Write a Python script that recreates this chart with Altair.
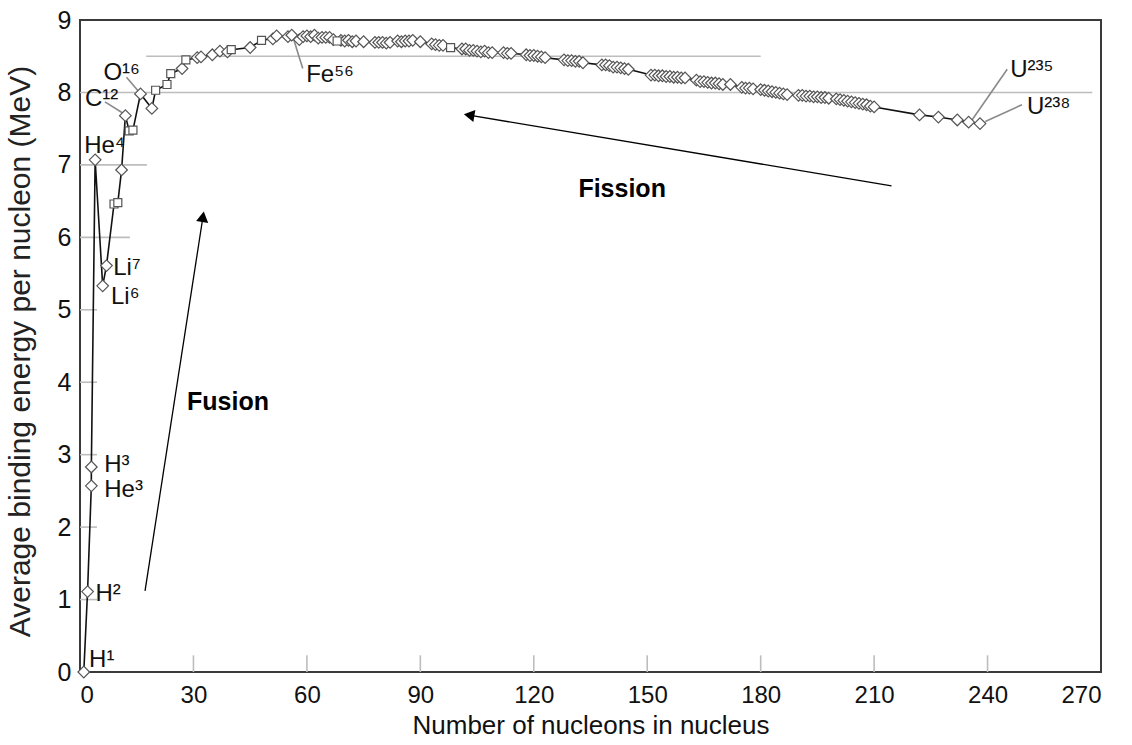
import altair as alt
import pandas as pd

# ---------------- data ----------------
A = [1, 2, 3, 3, 4, 6, 7, 9, 10, 11, 12, 13, 14, 16, 19, 20, 23, 24, 27, 28,
     31, 32, 35, 37, 39, 40, 45, 48, 51, 52, 55, 56,
     58, 59, 60, 61, 62, 63, 64, 65, 66, 67, 68, 69, 70, 71, 72, 73, 75,
     78, 79, 80, 81, 82, 84, 85, 86, 87, 88, 90, 93, 94, 95, 96, 98,
     101, 102, 103, 104, 105, 106, 107, 108, 109, 112, 113, 114,
     118, 119, 120, 121, 122, 123, 128, 129, 130, 131, 132, 133,
     138, 139, 140, 141, 142, 143, 144, 145,
     151, 152, 153, 154, 155, 156, 157, 158, 159, 160,
     163, 164, 165, 166, 167, 168, 169, 170, 172, 175, 176, 177, 178,
     180, 181, 182, 183, 184, 185, 186, 187,
     190, 191, 192, 193, 194, 195, 196, 197, 198,
     200, 201, 202, 203, 204, 205, 206, 207, 208, 209, 210,
     222, 227, 232, 235, 238]
BE = [0.00, 1.11, 2.57, 2.83, 7.07, 5.33, 5.61, 6.46, 6.48, 6.93, 7.68, 7.47, 7.48, 7.98, 7.78, 8.03, 8.11, 8.26, 8.33, 8.45,
      8.48, 8.49, 8.52, 8.57, 8.56, 8.59, 8.62, 8.72, 8.74, 8.78, 8.77, 8.79,
      8.73, 8.77, 8.78, 8.77, 8.79, 8.75, 8.76, 8.76, 8.76, 8.73, 8.71, 8.72, 8.71, 8.72, 8.70, 8.71, 8.70,
      8.69, 8.69, 8.69, 8.68, 8.69, 8.71, 8.70, 8.71, 8.71, 8.72, 8.70, 8.67, 8.66, 8.65, 8.65, 8.62,
      8.60, 8.60, 8.58, 8.58, 8.57, 8.56, 8.57, 8.55, 8.55, 8.55, 8.54, 8.54,
      8.52, 8.51, 8.51, 8.50, 8.49, 8.48, 8.45, 8.44, 8.44, 8.43, 8.43, 8.41,
      8.38, 8.38, 8.37, 8.35, 8.35, 8.34, 8.33, 8.32,
      8.24, 8.24, 8.23, 8.23, 8.22, 8.22, 8.21, 8.21, 8.20, 8.20,
      8.17, 8.15, 8.15, 8.14, 8.13, 8.13, 8.12, 8.11, 8.11, 8.07, 8.06, 8.06, 8.05,
      8.04, 8.03, 8.02, 8.01, 8.00, 7.99, 7.98, 7.97,
      7.96, 7.96, 7.95, 7.95, 7.94, 7.94, 7.93, 7.93, 7.92,
      7.91, 7.90, 7.89, 7.88, 7.87, 7.86, 7.85, 7.84, 7.83, 7.81, 7.80,
      7.69, 7.66, 7.62, 7.59, 7.57]
SQUARE_A = [9, 10, 13, 14, 20, 23, 24, 28, 40, 48, 68, 98]

X_TICKS = [0, 30, 60, 90, 120, 150, 180, 210, 240, 270]
Y_TICKS = [0, 1, 2, 3, 4, 5, 6, 7, 8, 9]

LABELS = ["H¹", "H²", "H³", "He³", "He⁴", "Li⁷", "Li⁶", "C¹²", "O¹⁶", "Fe⁵⁶", "U²³⁵", "U²³⁸"]
LABEL_A = [2.4, 4.1, 6.4, 6.4, 1.1, 8.8, 8.2, 1.3, 6.2, 59.8, 246.0, 250.4]
LABEL_BE = [0.07, 0.98, 2.76, 2.42, 7.16, 5.48, 5.08, 7.81, 8.17, 8.15, 8.21, 7.70]

LEADER_A = [6.6, 12.3, 56.4, 245.2, 249.1]
LEADER_BE = [7.87, 8.21, 8.75, 8.32, 7.83]
LEADER_A2 = [11.5, 15.9, 58.9, 235.9, 239.4]
LEADER_BE2 = [7.71, 7.99, 8.33, 7.62, 7.60]

GRID_BE = [8, 8.5, 7, 6, 5, 4, 3, 2, 1]
GRID_FROM = [0, 17.5, 0, 0, 0, 0, 0, 0, 0]
GRID_TO = [267.7, 180, 17.7, 13.2, 4.5, 4.5, 4.5, 4.5, 4.5]
XMARK_A = [30, 60, 90, 120, 150, 180, 210, 240]
XMARK_TOP = 0.23

ARROW_TEXT = ["Fusion", "Fission"]
ARROW_FROM_A = [17.2, 214.6]
ARROW_FROM_BE = [1.12, 6.71]
HEAD_A = [32.52, 102.9]
HEAD_BE = [6.284, 7.687]
HEAD_ANGLE = [8.8, 279.5]
TEXT_A = [28.3, 131.8]
TEXT_BE = [3.62, 6.56]

# ---------------- tables ----------------
pts = pd.DataFrame({"A": A, "BE": BE})
pts["idx"] = range(len(pts))
pts["kind"] = ["square" if (a in SQUARE_A) else "diamond" for a in A]

labels = pd.DataFrame({"t": LABELS, "a": LABEL_A, "b": LABEL_BE})
leaders = pd.DataFrame({"a": LEADER_A, "b": LEADER_BE, "a2": LEADER_A2, "b2": LEADER_BE2})
grid = pd.DataFrame({"b": GRID_BE, "a": GRID_FROM, "a2": GRID_TO})
xmarks = pd.DataFrame({"a": XMARK_A, "b": [0] * len(XMARK_A), "b2": [XMARK_TOP] * len(XMARK_A)})
arrows = pd.DataFrame({"t": ARROW_TEXT, "a": ARROW_FROM_A, "b": ARROW_FROM_BE,
                       "ha": HEAD_A, "hb": HEAD_BE, "ang": HEAD_ANGLE,
                       "ta": TEXT_A, "tb": TEXT_BE})

W, H = 1021, 652
FONT = "Liberation Sans"
xs = alt.Scale(domain=[0, 270], nice=False, zero=False)
ys = alt.Scale(domain=[0, 9], nice=False, zero=False)

x_axis = alt.Axis(values=X_TICKS, title="Number of nucleons in nucleus", grid=False, ticks=False,
                  domain=False, labelFontSize=24, labelPadding=11, labelFont=FONT, labelColor="#111",
                  titleFont=FONT, titleFontSize=26, titleFontWeight="normal", titleColor="#111",
                  titleY=53, titleBaseline="middle")
y_axis = alt.Axis(values=Y_TICKS, title="Average binding energy per nucleon (MeV)", grid=False, ticks=False,
                  domain=False, labelFontSize=25, labelPadding=9, labelFont=FONT, labelColor="#111",
                  titleFont=FONT, titleFontSize=30, titleFontWeight="normal", titleColor="#222",
                  titleX=-60, titleY=331, titleAngle=270, titleBaseline="middle", titleAlign="center")


def X(f):
    return alt.X(f, scale=xs, axis=x_axis)


def Y(f):
    return alt.Y(f, scale=ys, axis=y_axis)


grid_layer = alt.Chart(grid).mark_rule(color="#bdbdbd", strokeWidth=1.6).encode(
    x=X("a:Q"), x2="a2:Q", y=Y("b:Q"))

xmark_layer = alt.Chart(xmarks).mark_rule(color="#bdbdbd", strokeWidth=1.6).encode(
    x=X("a:Q"), y=Y("b:Q"), y2="b2:Q")

leader_layer = alt.Chart(leaders).mark_rule(color="#8a8a8a", strokeWidth=1.6).encode(
    x=X("a:Q"), y=Y("b:Q"), x2="a2:Q", y2="b2:Q")

arrow_lines = alt.Chart(arrows).mark_rule(color="#000", strokeWidth=1.3).encode(
    x=X("a:Q"), y=Y("b:Q"), x2="ha:Q", y2="hb:Q")

arrow_heads = alt.Chart(arrows).mark_point(shape="triangle-up", filled=True, color="#000",
                                           size=150, opacity=1).encode(
    x=X("ha:Q"), y=Y("hb:Q"), angle=alt.Angle("ang:Q", scale=None))

arrow_text = alt.Chart(arrows).mark_text(font=FONT, fontSize=25, fontWeight="bold", color="#000",
                                         align="left", baseline="alphabetic").encode(
    x=X("ta:Q"), y=Y("tb:Q"), text="t:N")

line_layer = alt.Chart(pts).mark_line(color="#111", strokeWidth=1.6).encode(
    x=X("A:Q"), y=Y("BE:Q"), order=alt.Order("idx:Q"))

diamonds = alt.Chart(pts).transform_filter(alt.datum.kind == "diamond").mark_point(
    shape="diamond", filled=True, fill="white", stroke="#555", strokeWidth=1.2, size=135, opacity=1).encode(
    x=X("A:Q"), y=Y("BE:Q"))

squares = alt.Chart(pts).transform_filter(alt.datum.kind == "square").mark_point(
    shape="square", filled=True, fill="white", stroke="#555", strokeWidth=1.2, size=64, opacity=1).encode(
    x=X("A:Q"), y=Y("BE:Q"))

label_layer = alt.Chart(labels).mark_text(font=FONT, fontSize=24, color="#111", align="left",
                                          baseline="alphabetic").encode(
    x=X("a:Q"), y=Y("b:Q"), text="t:N")

chart = alt.layer(grid_layer, xmark_layer, leader_layer, arrow_lines, arrow_heads, arrow_text,
                  line_layer, diamonds, squares, label_layer).properties(
    width=W, height=H,
    autosize=alt.AutoSizeParams(type="none"),
    padding={"left": 80, "top": 20, "right": 31, "bottom": 73},
    background="white",
).configure_view(stroke="#3a3a3a", strokeWidth=2)

chart.save("out.html", embed_options={"renderer": "svg", "actions": False})
